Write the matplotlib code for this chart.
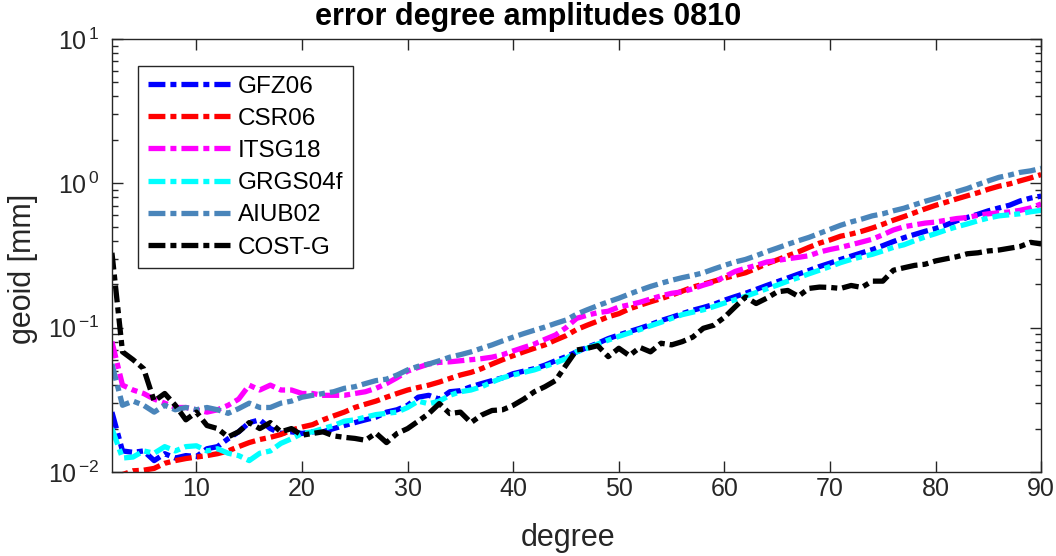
import numpy as np
import matplotlib
matplotlib.use('Agg')
import matplotlib.pyplot as plt
from matplotlib.ticker import LogLocator, FixedLocator, NullFormatter, FuncFormatter

plt.rcParams['font.family'] = ['Liberation Sans', 'DejaVu Sans']
plt.rcParams['mathtext.fontset'] = 'custom'
plt.rcParams['mathtext.rm'] = 'Liberation Sans'
plt.rcParams['mathtext.it'] = 'Liberation Sans:italic'

degree = np.arange(2, 91)

gfz06 = [0.026, 0.014, 0.0137, 0.014, 0.012, 0.0134, 0.0125, 0.013, 0.0128, 0.0145,
         0.015, 0.017, 0.019, 0.022, 0.023, 0.020, 0.0185, 0.019, 0.0185, 0.019,
         0.019, 0.020, 0.021, 0.022, 0.023, 0.024, 0.026, 0.027, 0.029, 0.033,
         0.034, 0.032, 0.036, 0.0366, 0.039, 0.041, 0.043, 0.045, 0.048, 0.050,
         0.052, 0.055, 0.059, 0.063, 0.068, 0.073, 0.078, 0.084, 0.089, 0.094,
         0.099, 0.105, 0.112, 0.118, 0.125, 0.132, 0.138, 0.145, 0.155, 0.164,
         0.173, 0.184, 0.196, 0.208, 0.221, 0.235, 0.249, 0.265, 0.28, 0.297,
         0.313, 0.33, 0.347, 0.37, 0.395, 0.42, 0.442, 0.465, 0.486, 0.515,
         0.55, 0.58, 0.61, 0.645, 0.675, 0.705, 0.755, 0.79, 0.815]

csr06 = [0.0092, 0.0096, 0.0102, 0.0103, 0.0106, 0.0115, 0.012, 0.0124, 0.0127, 0.013,
         0.0134, 0.014, 0.015, 0.016, 0.0168, 0.0174, 0.0182, 0.0195, 0.0205, 0.0213,
         0.023, 0.0245, 0.026, 0.028, 0.0295, 0.031, 0.033, 0.035, 0.037, 0.0385,
         0.040, 0.042, 0.0445, 0.047, 0.049, 0.052, 0.056, 0.060, 0.064, 0.068,
         0.072, 0.076, 0.082, 0.088, 0.097, 0.104, 0.111, 0.119, 0.125, 0.135,
         0.143, 0.151, 0.159, 0.168, 0.179, 0.191, 0.20, 0.21, 0.22, 0.23,
         0.24, 0.257, 0.277, 0.295, 0.315, 0.335, 0.36, 0.385, 0.405, 0.43,
         0.445, 0.465, 0.49, 0.52, 0.555, 0.588, 0.625, 0.665, 0.704, 0.74,
         0.78, 0.82, 0.86, 0.91, 0.955, 0.99, 1.04, 1.09, 1.15]

itsg18 = [0.08, 0.040, 0.037, 0.035, 0.032, 0.030, 0.028, 0.028, 0.027, 0.026,
          0.027, 0.029, 0.032, 0.040, 0.037, 0.040, 0.037, 0.037, 0.035, 0.035,
          0.034, 0.034, 0.034, 0.035, 0.036, 0.038, 0.041, 0.045, 0.050, 0.053,
          0.056, 0.0575, 0.058, 0.059, 0.06, 0.061, 0.0625, 0.065, 0.069, 0.073,
          0.077, 0.083, 0.089, 0.10, 0.116, 0.122, 0.127, 0.13, 0.139, 0.144,
          0.150, 0.158, 0.166, 0.173, 0.177, 0.186, 0.197, 0.207, 0.225, 0.245,
          0.258, 0.27, 0.285, 0.292, 0.30, 0.307, 0.315, 0.334, 0.348, 0.36,
          0.375, 0.392, 0.41, 0.44, 0.475, 0.50, 0.515, 0.53, 0.539, 0.555,
          0.57, 0.58, 0.60, 0.615, 0.625, 0.633, 0.65, 0.675, 0.72]

grgs04f = [0.020, 0.0125, 0.0127, 0.014, 0.0135, 0.015, 0.014, 0.015, 0.0152, 0.014,
           0.0145, 0.0135, 0.013, 0.012, 0.0135, 0.014, 0.0158, 0.017, 0.0185, 0.019,
           0.020, 0.021, 0.0225, 0.023, 0.024, 0.025, 0.0255, 0.026, 0.028, 0.031,
           0.0297, 0.031, 0.034, 0.036, 0.037, 0.039, 0.042, 0.045, 0.047, 0.049,
           0.051, 0.054, 0.057, 0.061, 0.068, 0.072, 0.077, 0.082, 0.087, 0.092,
           0.097, 0.103, 0.109, 0.116, 0.123, 0.128, 0.133, 0.14, 0.148, 0.156,
           0.165, 0.175, 0.186, 0.197, 0.21, 0.222, 0.236, 0.25, 0.265, 0.282,
           0.297, 0.31, 0.322, 0.34, 0.36, 0.375, 0.40, 0.425, 0.448, 0.475,
           0.50, 0.523, 0.55, 0.575, 0.595, 0.605, 0.615, 0.635, 0.65]

aiub02 = [0.056, 0.029, 0.031, 0.029, 0.026, 0.029, 0.027, 0.028, 0.027, 0.028,
          0.027, 0.0255, 0.0275, 0.030, 0.028, 0.028, 0.030, 0.031, 0.033, 0.034,
          0.035, 0.036, 0.038, 0.039, 0.041, 0.043, 0.044, 0.047, 0.051, 0.054,
          0.056, 0.059, 0.0625, 0.065, 0.068, 0.072, 0.076, 0.081, 0.086, 0.091,
          0.096, 0.101, 0.107, 0.113, 0.124, 0.133, 0.142, 0.151, 0.16, 0.171,
          0.182, 0.193, 0.203, 0.213, 0.222, 0.23, 0.24, 0.255, 0.27, 0.285,
          0.297, 0.315, 0.336, 0.356, 0.378, 0.40, 0.422, 0.45, 0.48, 0.512,
          0.54, 0.565, 0.595, 0.615, 0.645, 0.672, 0.71, 0.75, 0.787, 0.83,
          0.875, 0.92, 0.98, 1.04, 1.10, 1.14, 1.19, 1.22, 1.27]

costg = [0.33, 0.068, 0.060, 0.052, 0.031, 0.035, 0.029, 0.023, 0.026, 0.021,
         0.020, 0.0175, 0.019, 0.022, 0.020, 0.022, 0.019, 0.020, 0.018, 0.0185,
         0.019, 0.0178, 0.0174, 0.0171, 0.0166, 0.0186, 0.016, 0.0185, 0.020, 0.0225,
         0.0254, 0.0298, 0.0254, 0.026, 0.022, 0.0248, 0.0267, 0.027, 0.029, 0.032,
         0.036, 0.039, 0.043, 0.055, 0.07, 0.072, 0.075, 0.063, 0.072, 0.064,
         0.073, 0.068, 0.078, 0.076, 0.08, 0.086, 0.099, 0.104, 0.118, 0.139,
         0.163, 0.147, 0.16, 0.177, 0.181, 0.165, 0.187, 0.191, 0.19, 0.187,
         0.196, 0.19, 0.21, 0.21, 0.25, 0.26, 0.27, 0.275, 0.29, 0.30,
         0.31, 0.325, 0.33, 0.34, 0.345, 0.355, 0.365, 0.39, 0.38]

series = [('GFZ06', gfz06, (0, 0, 1)),
          ('CSR06', csr06, (1, 0, 0)),
          ('ITSG18', itsg18, (1, 0, 1)),
          ('GRGS04f', grgs04f, (0, 1, 1)),
          ('AIUB02', aiub02, (0.29, 0.52, 0.73)),
          ('COST-G', costg, (0, 0, 0))]

axcol = (0.15, 0.15, 0.15)

fig = plt.figure(figsize=(10.56, 5.56), dpi=100)
ax = fig.add_axes([0.106, 0.151, 0.880, 0.779])

for name, vals, col in series:
    ax.semilogy(degree, vals, color=col, lw=3.8, label=name,
                linestyle=(0, (3.2, 0.95, 1.14, 0.95)))

ax.set_xlim(2, 90)
ax.set_ylim(1e-2, 1e1)
ax.xaxis.set_major_locator(FixedLocator([10, 20, 30, 40, 50, 60, 70, 80, 90]))
ax.yaxis.set_major_locator(LogLocator(base=10, numticks=10))
ax.yaxis.set_minor_locator(LogLocator(base=10, subs=np.arange(2, 10), numticks=10))
ax.yaxis.set_minor_formatter(NullFormatter())
ax.yaxis.set_major_formatter(FuncFormatter(
    lambda v, p: r'$10^{\,\mathregular{%d}}$' % int(round(np.log10(v)))))

ax.tick_params(which='both', direction='in', top=True, right=True, colors=axcol,
               labelsize=18, labelcolor=axcol)
ax.tick_params(axis='y', which='major', pad=9)
ax.tick_params(which='major', length=8, width=1)
ax.tick_params(which='minor', length=4, width=1)
for sp in ax.spines.values():
    sp.set_color(axcol)
    sp.set_linewidth(1)

ax.set_xlabel('degree', fontsize=22, color=axcol)
ax.xaxis.set_label_coords(0.491, -0.118)
ax.set_ylabel('geoid [mm]', fontsize=22, color=axcol)
ax.yaxis.set_label_coords(-0.080, 0.47)
ax.set_title('error degree amplitudes 0810', fontsize=22, fontweight='bold',
             pad=10, x=0.448)

leg = ax.legend(loc='upper left', bbox_to_anchor=(0.028, 0.938), borderaxespad=0,
                fontsize=17.5, fancybox=False, framealpha=1, edgecolor=axcol,
                handlelength=3.4, handletextpad=0.3, labelspacing=0.42, borderpad=0.4)
leg.get_frame().set_linewidth(1)

fig.savefig('out.png', dpi=100)
